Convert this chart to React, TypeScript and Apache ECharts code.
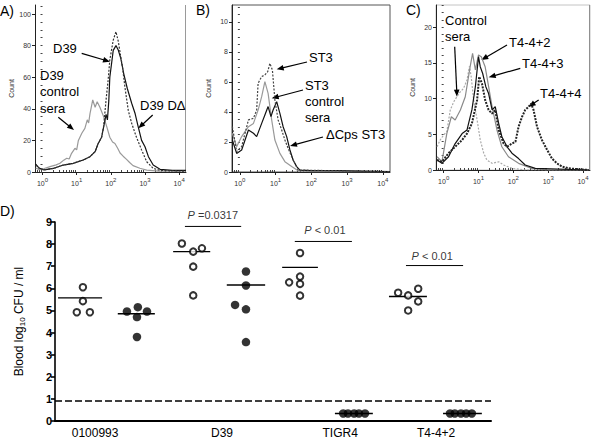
import React, { useEffect, useRef } from "react";
import * as echarts from "echarts";

// ---------- Panel A (log10 fluorescence, count) ----------
const A_CONTROL_SERA = [
  [-0.2, 2.5], [-0.1, 1.5], [0.05, 2.2], [0.22, 3.4], [0.4, 4.5], [0.51, 5.5], [0.62, 7.5], [0.71, 8.7], [0.78, 8.2], [0.85, 11.8], [0.95, 15], [1.0, 14],
  [1.05, 20], [1.15, 24.5], [1.24, 27.6], [1.31, 33], [1.35, 31], [1.39, 37], [1.47, 45.6], [1.54, 41], [1.6, 44.5],
  [1.68, 41], [1.79, 35], [1.88, 28.7], [1.97, 22], [2.05, 19], [2.12, 18], [2.2, 15], [2.27, 12], [2.36, 10], [2.46, 8],
  [2.55, 6], [2.65, 4], [2.85, 2.4], [3.05, 1.2], [3.4, 0.6], [4.2, 0.5],
];
const A_D39 = [
  [-0.2, 4.5], [-0.1, 2.5], [0.04, 1.3], [0.32, 2.3], [0.61, 4.4], [0.9, 5.5], [1.19, 7.6], [1.39, 9.7], [1.54, 12.9],
  [1.63, 18], [1.73, 22], [1.79, 29], [1.86, 45.6], [1.92, 58], [1.97, 71], [2.07, 83.5], [2.15, 88.8], [2.22, 82.5],
  [2.29, 73], [2.34, 66.7], [2.41, 54], [2.51, 39], [2.61, 30.8], [2.75, 22], [2.9, 14], [3.05, 6.5], [3.24, 2.3],
  [3.44, 1], [4.2, 0.5],
];
const A_D39_DELTA = [
  [-0.2, 5], [-0.1, 2.5], [0.04, 1.3], [0.32, 2.3], [0.61, 4.4], [0.9, 5.5], [1.19, 7.6], [1.39, 9.7], [1.54, 12.9],
  [1.63, 18], [1.73, 22], [1.83, 33], [1.86, 36.5], [1.9, 33], [1.94, 45], [1.97, 60], [2.07, 77], [2.15, 80],
  [2.22, 77], [2.29, 72], [2.38, 62], [2.48, 53], [2.61, 43.5], [2.71, 37], [2.8, 28.7], [2.9, 20], [3.0, 16],
  [3.1, 9.7], [3.24, 4.4], [3.44, 1.7], [3.8, 1], [4.2, 1],
];

// ---------- Panel B ----------
const B_ST3_CONTROL = [
  [-0.21, 2.58], [-0.09, 1.69], [0.05, 2.36], [0.24, 3.02], [0.38, 3.24], [0.51, 4.13], [0.61, 5.02], [0.7, 6.02],
  [0.79, 5.24], [0.89, 3.47], [0.98, 2.13], [1.12, 1.24], [1.26, 0.69], [1.45, 0.36], [1.63, 0.09], [2.0, 0.02], [4.2, 0.02],
];
const B_ST3 = [
  [-0.21, 3.02], [-0.09, 1.36], [0.05, 1.69], [0.24, 3.47], [0.38, 3.58], [0.47, 4.13], [0.51, 5.91], [0.61, 6.36],
  [0.7, 6.47], [0.78, 6.69], [0.84, 7.24], [0.91, 6.8], [0.98, 4.8], [1.07, 3.47], [1.17, 2.8], [1.26, 2.13],
  [1.35, 1.58], [1.49, 0.8], [1.63, 0.13], [4.2, 0.02],
];
const B_DCPS_ST3 = [
  [-0.21, 2.13], [-0.09, 1.24], [0.05, 1.47], [0.24, 2.8], [0.38, 2.58], [0.47, 2.36], [0.61, 3.24], [0.7, 3.8],
  [0.79, 4.36], [0.87, 3.69], [0.93, 4.13], [1.03, 4.69], [1.12, 3.91], [1.21, 3.02], [1.31, 2.36], [1.4, 1.47],
  [1.49, 0.8], [1.59, 0.36], [1.68, 0.13], [2.0, 0.09], [2.75, 0.09], [4.2, 0.02],
];

// ---------- Panel C ----------
const C_CONTROL_SERA = [
  [-0.19, 3.25], [-0.1, 4.2], [0.0, 4.9], [0.09, 5.35], [0.19, 8.4], [0.29, 9.55], [0.38, 10.25], [0.48, 10.95],
  [0.57, 11.4], [0.67, 12.6], [0.74, 14.5], [0.79, 13.05], [0.86, 9.8], [0.96, 7.0], [1.05, 4.2], [1.15, 2.35],
  [1.24, 1.4], [1.39, 0.93], [1.58, 1.15], [1.72, 0.7], [1.96, 0.23], [2.34, 0], [4.16, 0],
];
const C_T4_4_2 = [
  [-0.19, 1.85], [-0.05, 1.15], [0.09, 5.1], [0.22, 7.45], [0.33, 7.0], [0.48, 8.4], [0.62, 10.25], [0.76, 14.45],
  [0.83, 16.3], [0.91, 14.0], [1.0, 16.1], [1.08, 15.85], [1.19, 14.45], [1.29, 11.65], [1.39, 8.85], [1.53, 5.6],
  [1.67, 3.25], [1.86, 1.85], [2.15, 0.93], [2.53, 0.23], [3.01, 0], [4.16, 0],
];
const C_T4_4_3 = [
  [-0.19, 1.4], [-0.05, 0.93], [0.14, 1.85], [0.33, 3.7], [0.53, 5.1], [0.67, 5.6], [0.81, 8.4], [0.91, 11.65],
  [1.0, 15.85], [1.05, 14.45], [1.12, 13.5], [1.21, 11.65], [1.29, 10.7], [1.39, 8.4], [1.48, 8.85], [1.58, 6.5],
  [1.67, 4.65], [1.82, 3.25], [1.96, 2.35], [2.15, 1.6], [2.34, 0.7], [2.63, 0.23], [4.16, 0],
];
const C_T4_4_4 = [
  [-0.19, 1.4], [-0.05, 1.15], [0.14, 2.35], [0.33, 3.25], [0.53, 4.2], [0.67, 5.1], [0.81, 6.5], [0.96, 9.8],
  [1.02, 13.05], [1.1, 12.1], [1.19, 9.8], [1.29, 8.4], [1.39, 7.9], [1.48, 8.4], [1.58, 5.6], [1.72, 3.7],
  [1.82, 3.25], [1.96, 3.7], [2.06, 3.95], [2.15, 6.05], [2.25, 7.45], [2.34, 8.4], [2.44, 8.85], [2.51, 9.3],
  [2.58, 8.4], [2.68, 6.05], [2.82, 4.2], [2.97, 2.8], [3.11, 1.6], [3.25, 0.93], [3.4, 0.47], [3.59, 0.23], [4.16, 0],
];

// ---------- Panel D ----------
const D_CATEGORIES = ["0100993", "D39", "TIGR4", "T4-4+2"];
const D_CATEGORY_POS = [0.92, 3.83, 6.54, 8.74];
const D_OPEN = [
  [0.64, 6.05], [0.64, 5.42], [0.5, 4.92], [0.8, 4.92],
  [2.91, 8.03], [3.17, 7.66], [3.37, 7.81], [3.17, 6.98], [3.17, 5.68],
  [5.62, 7.6], [5.62, 6.53], [5.62, 6.2], [5.37, 6.27], [5.62, 5.67],
  [7.87, 5.8], [8.1, 5.68], [8.33, 5.98], [8.33, 5.41], [8.1, 5.0],
];
const D_FILLED = [
  [1.65, 4.95], [1.9, 5.15], [2.11, 4.95], [1.88, 4.7], [1.88, 3.8],
  [4.38, 6.76], [4.38, 6.13], [4.13, 5.25], [4.38, 5.05], [4.38, 3.57],
  [6.61, 0.34], [6.72, 0.34], [6.86, 0.34], [6.97, 0.34], [7.11, 0.34],
  [9.06, 0.34], [9.17, 0.34], [9.31, 0.34], [9.43, 0.34], [9.56, 0.34],
];
// [xStart, xEnd, y]
const D_MEDIANS = [
  [0.07, 1.08, 5.57], [1.44, 2.29, 4.85], [2.71, 3.56, 7.66], [3.94, 4.82, 6.15],
  [5.21, 6.03, 6.95], [6.42, 7.29, 0.34], [7.66, 8.53, 5.63], [8.9, 9.79, 0.34],
];
const P_LABELS = [" =0.0317", " < 0.01", " < 0.01"];
const P_BARS = [[2.98, 4.27, 8.8], [5.5, 6.81, 8.12], [8.05, 9.36, 7.03]];
const P_TEXT_POS = [[3.62, 9.32], [6.19, 8.65], [8.65, 7.48]];
const DETECTION_LIMIT = 0.9;

const FONT = '"Liberation Sans", Arial, sans-serif';
const LOG_MIN = -0.22;
const LOG_MAX = 4.2;

function minorLogTicks() {
  const out: number[] = [];
  for (let n = -1; n <= 3; n++) {
    for (let k = 2; k <= 9; k++) {
      const v = Math.log10(k * Math.pow(10, n));
      if (v >= LOG_MIN && v <= LOG_MAX) out.push(+v.toFixed(4));
    }
  }
  return out;
}

function histAxes(gridIndex: number, yMax: number, yMajor: number[], yMinor: number[]) {
  const tickColor = "#333";
  const xAxes = [
    {
      type: "value", gridIndex, min: LOG_MIN, max: LOG_MAX,
      axisLine: { show: true, onZero: false, lineStyle: { color: "#222", width: 1 } },
      axisTick: { show: true, length: 3, customValues: [0, 1, 2, 3, 4], lineStyle: { color: "#222" } },
      axisLabel: {
        customValues: [0, 1, 2, 3, 4], margin: 5,
        formatter: (v: number) => `{a|10}{b|${Math.round(v)}}`,
        rich: {
          a: { fontSize: 7, color: tickColor, fontFamily: FONT },
          b: { fontSize: 6, color: tickColor, fontFamily: FONT, verticalAlign: "bottom", padding: [0, 0, 6, 0] },
        },
      },
      splitLine: { show: false },
    },
    {
      type: "value", gridIndex, min: LOG_MIN, max: LOG_MAX,
      axisLine: { show: false },
      axisTick: { show: true, length: 2, customValues: minorLogTicks(), lineStyle: { color: "#444" } },
      axisLabel: { show: false },
      splitLine: { show: false },
    },
  ];
  const yAxes = [
    {
      type: "value", gridIndex, min: 0, max: yMax, position: "left",
      name: "Count", nameLocation: "middle", nameGap: 20,
      nameTextStyle: { fontSize: 7, color: "#333", fontFamily: FONT },
      axisLine: { show: true, onZero: false, lineStyle: { color: "#222", width: 1 } },
      axisTick: { show: true, length: 3, customValues: yMajor, lineStyle: { color: "#222" } },
      axisLabel: { customValues: yMajor, fontSize: 7, color: tickColor, margin: 4, fontFamily: FONT },
      splitLine: { show: false },
    },
    {
      type: "value", gridIndex, min: 0, max: yMax, position: "left",
      axisLine: { show: false },
      axisTick: { show: true, length: 2, customValues: yMinor, lineStyle: { color: "#444" } },
      axisLabel: { show: false },
      splitLine: { show: false },
    },
  ];
  return { xAxes, yAxes };
}

function range(step: number, max: number) {
  const out: number[] = [];
  for (let v = 0; v <= max + 1e-9; v += step) out.push(+v.toFixed(4));
  return out;
}

function histSeries(data: number[][], axisBase: number, color: string, type: any, width: number) {
  return {
    type: "line", xAxisIndex: axisBase, yAxisIndex: axisBase, data,
    showSymbol: false, symbol: "none", silent: true,
    lineStyle: { color, type, width },
  };
}

function arrow(x1: number, y1: number, x2: number, y2: number) {
  const ang = Math.atan2(y2 - y1, x2 - x1);
  const L = 7, W = 2.8;
  const c = Math.cos(ang), s = Math.sin(ang);
  const bx = x2 - L * c, by = y2 - L * s;
  return [
    { type: "line", silent: true, shape: { x1, y1, x2: bx + c, y2: by + s }, style: { stroke: "#000", lineWidth: 1.2 } },
    {
      type: "polygon", silent: true,
      shape: { points: [[x2, y2], [bx + W * s, by - W * c], [bx - W * s, by + W * c]] },
      style: { fill: "#000" },
    },
  ];
}

function label(text: string, x: number, y: number, size = 13) {
  return {
    type: "text", silent: true,
    style: { text, x, y, font: `${size}px ${FONT}`, fill: "#000", textVerticalAlign: "middle", textAlign: "left" },
  };
}

export default function App() {
  const ref = useRef<HTMLDivElement>(null);
  useEffect(() => {
    document.body.style.margin = "0";
    if (!ref.current) return;
    const chart = echarts.init(ref.current, null, { renderer: "svg" });

    const a = histAxes(0, 105.7, range(20, 100), range(5, 105));
    const b = histAxes(1, 11.13, range(2, 10), range(0.5, 11));
    const c = histAxes(2, 23.08, range(5, 20), range(1, 23));

    const dX = {
      type: "value", gridIndex: 3, min: 0, max: 10,
      axisLine: { show: true, onZero: false, lineStyle: { color: "#000", width: 2 } },
      axisTick: { show: false },
      splitLine: { show: false },
      axisLabel: {
        customValues: D_CATEGORY_POS, margin: 6, fontSize: 12, color: "#000", fontFamily: FONT,
        formatter: (v: number) => {
          let best = 0;
          D_CATEGORY_POS.forEach((p, i) => { if (Math.abs(p - v) < Math.abs(D_CATEGORY_POS[best] - v)) best = i; });
          return D_CATEGORIES[best];
        },
      },
    };
    const dY = {
      type: "value", gridIndex: 3, min: 0, max: 9, interval: 1,
      name: "Blood log{s|10} CFU / ml", nameLocation: "middle", nameGap: 29,
      nameTextStyle: {
        fontSize: 12, color: "#000", fontFamily: FONT,
        rich: { s: { fontSize: 8, color: "#000", fontFamily: FONT, verticalAlign: "top", padding: [6, 0, 0, 0] } },
      },
      axisLine: { show: true, onZero: false, lineStyle: { color: "#000", width: 1.6 } },
      axisTick: { show: true, length: 4, lineStyle: { color: "#000", width: 1.6 } },
      axisLabel: { fontSize: 11, fontWeight: "bold", color: "#000", margin: 3, fontFamily: FONT },
      splitLine: { show: false },
    };

    const series: any[] = [
      histSeries(A_CONTROL_SERA, 0, "#9a9a9a", "solid", 1.2),
      histSeries(A_D39_DELTA, 0, "#111", "solid", 1.2),
      histSeries(A_D39, 0, "#333", [2, 1.5], 1.2),
      histSeries(B_ST3_CONTROL, 2, "#9a9a9a", "solid", 1.2),
      histSeries(B_DCPS_ST3, 2, "#111", "solid", 1.2),
      histSeries(B_ST3, 2, "#444", [2, 1.5], 1.2),
      histSeries(C_CONTROL_SERA, 4, "#aaaaaa", [2, 1.5], 1.2),
      histSeries(C_T4_4_2, 4, "#8a8a8a", "solid", 1.2),
      histSeries(C_T4_4_3, 4, "#111", "solid", 1.2),
      histSeries(C_T4_4_4, 4, "#222", [2, 1.2], 2),
    ];

    D_MEDIANS.forEach((m) => {
      series.push({
        type: "line", xAxisIndex: 6, yAxisIndex: 6, silent: true, symbol: "none",
        data: [[m[0], m[2]], [m[1], m[2]]], lineStyle: { color: "#000", width: 1.3 }, z: 2,
      });
    });
    P_BARS.forEach((p) => {
      series.push({
        type: "line", xAxisIndex: 6, yAxisIndex: 6, silent: true, symbol: "none",
        data: [[p[0], p[2]], [p[1], p[2]]], lineStyle: { color: "#000", width: 1 }, z: 2,
      });
    });
    series.push({
      type: "scatter", xAxisIndex: 6, yAxisIndex: 6, silent: true, symbolSize: 1, clip: false,
      itemStyle: { color: "transparent" },
      data: P_TEXT_POS.map((p, i) => ({ value: p, name: P_LABELS[i] })),
      label: {
        show: true, position: "inside", fontSize: 11, color: "#000", fontFamily: FONT,
        formatter: (pr: any) => `{i|P}${pr.name}`,
        rich: { i: { fontStyle: "italic", fontSize: 11, color: "#000", fontFamily: FONT } },
      },
      z: 3,
    });
    series.push({
      type: "scatter", xAxisIndex: 6, yAxisIndex: 6, silent: true, symbol: "circle", symbolSize: 6.5,
      itemStyle: { color: "#fff", borderColor: "#000", borderWidth: 2 },
      data: D_OPEN, z: 4,
      markLine: {
        silent: true, symbol: "none", label: { show: false },
        lineStyle: { color: "#000", type: [7, 3], width: 1.6 },
        data: [{ yAxis: DETECTION_LIMIT }],
      },
    });
    series.push({
      type: "scatter", xAxisIndex: 6, yAxisIndex: 6, silent: true, symbol: "circle", symbolSize: 8.5,
      itemStyle: { color: "#000" }, data: D_FILLED, z: 4,
    });

    const graphics: any[] = [
      { type: "line", silent: true, shape: { x1: 185.5, y1: 5, x2: 185.5, y2: 172 }, style: { stroke: "#9a9a9a", lineWidth: 1 } },
      { type: "line", silent: true, shape: { x1: 589.5, y1: 5, x2: 589.5, y2: 170 }, style: { stroke: "#909090", lineWidth: 1 } },
      label("A)", 0, 11, 14), label("B)", 196, 10, 14), label("C)", 406, 10, 14), label("D)", 0, 211, 14),
      label("D39", 53, 48), label("D39", 40, 75), label("control", 40, 91.5), label("sera", 40, 108),
      label("D39 D\u0394", 140, 105),
      label("ST3", 309, 57), label("ST3", 305, 85), label("control", 305, 101), label("sera", 305, 117),
      label("\u0394Cps ST3", 326, 134),
      label("Control", 445, 20.5), label("sera", 445, 36),
      label("T4-4+2", 509, 42), label("T4-4+3", 522, 63), label("T4-4+4", 540, 93),
      ...arrow(81.7, 53.3, 110, 61.7),
      ...arrow(58.3, 117.3, 74, 130),
      ...arrow(152.7, 115, 138.3, 128.3),
      ...arrow(307, 62, 276.7, 69.3),
      ...arrow(303, 90, 271.7, 98.3),
      ...arrow(323, 137, 290, 146),
      ...arrow(454.7, 46.7, 457, 96.7),
      ...arrow(507, 45, 481.3, 60),
      ...arrow(520.3, 68.3, 488.7, 77.3),
      ...arrow(538.7, 100, 528.7, 106.7),
    ];

    chart.setOption({
      animation: false,
      textStyle: { fontFamily: FONT },
      grid: [
        { left: 35, top: 5, width: 151, height: 167, show: false, outerBoundsMode: "none" },
        { left: 232, top: 5, width: 158, height: 167, show: true, borderColor: "#555", borderWidth: 1, outerBoundsMode: "none" },
        { left: 436, top: 5, width: 154, height: 165, show: true, borderColor: "#c4c4c4", borderWidth: 1, outerBoundsMode: "none" },
        { left: 55, top: 222, width: 436, height: 199, outerBoundsMode: "none" },
      ],
      xAxis: [...a.xAxes, ...b.xAxes, ...c.xAxes, dX],
      yAxis: [...a.yAxes, ...b.yAxes, ...c.yAxes, dY],
      series,
      graphic: graphics,
    });
    return () => chart.dispose();
  }, []);
  return <div ref={ref} style={{ width: 592, height: 441, background: "#fff" }} />;
}
